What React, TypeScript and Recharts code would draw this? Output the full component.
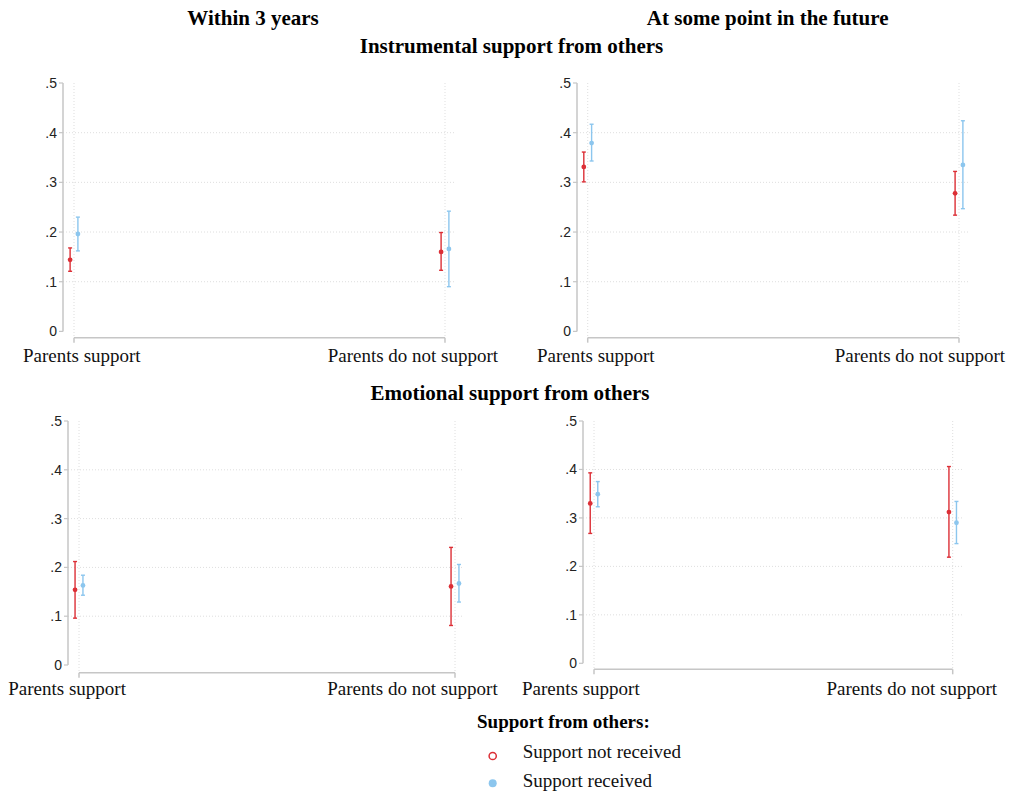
import {
  ScatterChart,
  Scatter,
  XAxis,
  YAxis,
  CartesianGrid,
  ErrorBar,
  ReferenceLine,
} from "recharts";

/* ---------- data ---------- */

const categories = ["Parents support", "Parents do not support"];
const yTicks = [0, 0.1, 0.2, 0.3, 0.4, 0.5];
const gridValues = [0.1, 0.2, 0.3, 0.4];
const seriesNames = ["Support not received", "Support received"];
const columnTitles = ["Within 3 years", "At some point in the future"];
const rowTitles = ["Instrumental support from others", "Emotional support from others"];
const legendTitle = "Support from others:";

// instrumental support, within 3 years
const instr3NotMean = [0.144, 0.16];
const instr3NotLo = [0.121, 0.123];
const instr3NotHi = [0.168, 0.199];
const instr3RecMean = [0.196, 0.166];
const instr3RecLo = [0.162, 0.09];
const instr3RecHi = [0.23, 0.242];

// instrumental support, at some point in the future
const instrFutNotMean = [0.331, 0.278];
const instrFutNotLo = [0.301, 0.234];
const instrFutNotHi = [0.361, 0.322];
const instrFutRecMean = [0.379, 0.335];
const instrFutRecLo = [0.343, 0.247];
const instrFutRecHi = [0.417, 0.424];

// emotional support, within 3 years
const emo3NotMean = [0.154, 0.161];
const emo3NotLo = [0.096, 0.081];
const emo3NotHi = [0.212, 0.241];
const emo3RecMean = [0.163, 0.167];
const emo3RecLo = [0.143, 0.129];
const emo3RecHi = [0.184, 0.206];

// emotional support, at some point in the future
const emoFutNotMean = [0.33, 0.312];
const emoFutNotLo = [0.268, 0.219];
const emoFutNotHi = [0.393, 0.406];
const emoFutRecMean = [0.349, 0.29];
const emoFutRecLo = [0.323, 0.247];
const emoFutRecHi = [0.375, 0.334];

/* ---------- styles ---------- */

const RED = "#dc2f36";
const BLUE = "#8cc6ee";
const AXIS = "#c6c6c6";
const SERIF = '"Liberation Serif", "Times New Roman", serif';
const SANS = '"Liberation Sans", Arial, sans-serif';
const DODGE = 0.0105; // horizontal shift of the two series around each category
const PANEL_W = 505;
const YAXIS_W = 40;

type Geo = {
  left: number; // panel left edge on page
  axisX: number; // y axis line
  x0: number; // first category
  x1: number; // second category
  right: number; // right end of grid
  yTop: number; // value .5
  yZero: number; // value 0
  xAxisY: number; // x axis line
  labelBase: number;
  labelStart: number;
  labelEnd: number;
};

const toPoints = (mean: number[], lo: number[], hi: number[], shift: number) =>
  mean.map((m, i) => ({ x: i + shift, y: m, err: [m - lo[i], hi[i] - m] }));

function Panel({ geo, notRec, rec }: { geo: Geo; notRec: any[]; rec: any[] }) {
  const chartTop = geo.yTop - 12;
  const chartBottom = geo.labelBase + 8;
  const height = chartBottom - chartTop;
  const k = geo.x1 - geo.x0;
  const xMin = -(geo.x0 - geo.axisX) / k;
  const xMax = 1 + (geo.right - geo.x1) / k;
  const drop = geo.xAxisY - geo.yZero;

  const catTick = (p: any) => {
    const first = p.payload.value === 0;
    return (
      <text
        x={(first ? geo.labelStart : geo.labelEnd) - geo.left}
        y={geo.labelBase - chartTop}
        textAnchor={first ? "start" : "end"}
        fontFamily={SERIF}
        fontSize={19}
        fill="#111"
      >
        {categories[Math.round(p.payload.value)]}
      </text>
    );
  };

  const dot = (color: string) => (p: any) => <circle cx={p.cx} cy={p.cy} r={2.4} fill={color} />;

  return (
    <div style={{ position: "absolute", left: geo.left, top: chartTop }}>
      <ScatterChart
        width={PANEL_W}
        height={height}
        margin={{
          top: geo.yTop - chartTop,
          right: geo.left + PANEL_W - geo.right,
          bottom: 0,
          left: geo.axisX - geo.left - YAXIS_W,
        }}
      >
        <CartesianGrid
          stroke="#dedede"
          strokeDasharray="1 2"
          horizontalValues={gridValues}
          verticalValues={[0, 1]}
        />
        <XAxis
          type="number"
          dataKey="x"
          domain={[xMin, xMax]}
          ticks={[0, 1]}
          interval={0}
          axisLine={false}
          tickLine={{ stroke: AXIS, strokeWidth: 1.5 }}
          tickSize={5}
          height={chartBottom - geo.xAxisY}
          tick={catTick}
        />
        <YAxis
          type="number"
          dataKey="y"
          domain={[0, 0.5]}
          ticks={yTicks}
          interval={0}
          width={YAXIS_W}
          axisLine={false}
          tickLine={{ stroke: AXIS, strokeWidth: 1.2 }}
          tickSize={4}
          tickMargin={2}
          padding={{ top: 0, bottom: drop }}
          tick={{ fill: "#222", fontSize: 14, fontFamily: SANS }}
          tickFormatter={(v: number) => (v === 0 ? "0" : String(v).replace(/^0/, ""))}
        />
        {/* y axis line, from 0 to .5 */}
        <ReferenceLine
          segment={[
            { x: xMin, y: 0 },
            { x: xMin, y: 0.5 },
          ]}
          ifOverflow="visible"
          stroke={AXIS}
          strokeWidth={1.5}
        />
        {/* x axis line, between the categories, set a little below 0 */}
        <ReferenceLine
          segment={[
            { x: 0, y: 0 },
            { x: 1, y: 0 },
          ]}
          ifOverflow="visible"
          shape={(p: any) => (
            <line x1={p.x1} y1={p.y1 + drop} x2={p.x2} y2={p.y2 + drop} stroke={AXIS} strokeWidth={1.5} />
          )}
        />
        <Scatter name={seriesNames[0]} data={notRec} isAnimationActive={false} shape={dot(RED)}>
          <ErrorBar dataKey="err" direction="y" width={2} stroke={RED} strokeWidth={1.4} />
        </Scatter>
        <Scatter name={seriesNames[1]} data={rec} isAnimationActive={false} shape={dot(BLUE)}>
          <ErrorBar dataKey="err" direction="y" width={2} stroke={BLUE} strokeWidth={1.4} />
        </Scatter>
      </ScatterChart>
    </div>
  );
}

const geoTL: Geo = { left: 0, axisX: 63, x0: 74, x1: 445, right: 455, yTop: 83.3, yZero: 331.7, xAxisY: 338, labelBase: 362, labelStart: 23, labelEnd: 498 };
const geoTR: Geo = { left: 505, axisX: 577, x0: 587.7, x1: 959, right: 968, yTop: 83.3, yZero: 331.7, xAxisY: 338, labelBase: 362, labelStart: 537, labelEnd: 1005 };
const geoBL: Geo = { left: 0, axisX: 68, x0: 79, x1: 455, right: 464, yTop: 421, yZero: 665, xAxisY: 672.7, labelBase: 695, labelStart: 8.3, labelEnd: 497.7 };
const geoBR: Geo = { left: 505, axisX: 583, x0: 594, x1: 952.7, right: 963, yTop: 421, yZero: 663.3, xAxisY: 669.3, labelBase: 695, labelStart: 522, labelEnd: 997 };

export default function App() {
  const bold = { fontFamily: SERIF, fontSize: 21, fontWeight: 700, fill: "#000" } as const;
  return (
    <div style={{ position: "absolute", left: 0, top: 0, width: 1010, height: 791, background: "#fff" }}>
      <svg width={1010} height={791} style={{ position: "absolute", left: 0, top: 0 }}>
        <text x={253} y={25} textAnchor="middle" {...bold}>{columnTitles[0]}</text>
        <text x={767.7} y={25} textAnchor="middle" {...bold}>{columnTitles[1]}</text>
        <text x={511.5} y={53} textAnchor="middle" {...bold}>{rowTitles[0]}</text>
        <text x={510} y={400} textAnchor="middle" {...bold}>{rowTitles[1]}</text>
        <text x={563.4} y={728} textAnchor="middle" fontFamily={SERIF} fontSize={19} fontWeight={700}>
          {legendTitle}
        </text>
        <circle cx={492.7} cy={756} r={3.6} fill="none" stroke={RED} strokeWidth={1.5} />
        <text x={522.7} y={758.3} fontFamily={SERIF} fontSize={19} fill="#111">{seriesNames[0]}</text>
        <circle cx={492.7} cy={783.3} r={4} fill={BLUE} />
        <text x={522.7} y={786.7} fontFamily={SERIF} fontSize={19} fill="#111">{seriesNames[1]}</text>
      </svg>
      <Panel
        geo={geoTL}
        notRec={toPoints(instr3NotMean, instr3NotLo, instr3NotHi, -DODGE)}
        rec={toPoints(instr3RecMean, instr3RecLo, instr3RecHi, DODGE)}
      />
      <Panel
        geo={geoTR}
        notRec={toPoints(instrFutNotMean, instrFutNotLo, instrFutNotHi, -DODGE)}
        rec={toPoints(instrFutRecMean, instrFutRecLo, instrFutRecHi, DODGE)}
      />
      <Panel
        geo={geoBL}
        notRec={toPoints(emo3NotMean, emo3NotLo, emo3NotHi, -DODGE)}
        rec={toPoints(emo3RecMean, emo3RecLo, emo3RecHi, DODGE)}
      />
      <Panel
        geo={geoBR}
        notRec={toPoints(emoFutNotMean, emoFutNotLo, emoFutNotHi, -DODGE)}
        rec={toPoints(emoFutRecMean, emoFutRecLo, emoFutRecHi, DODGE)}
      />
    </div>
  );
}
